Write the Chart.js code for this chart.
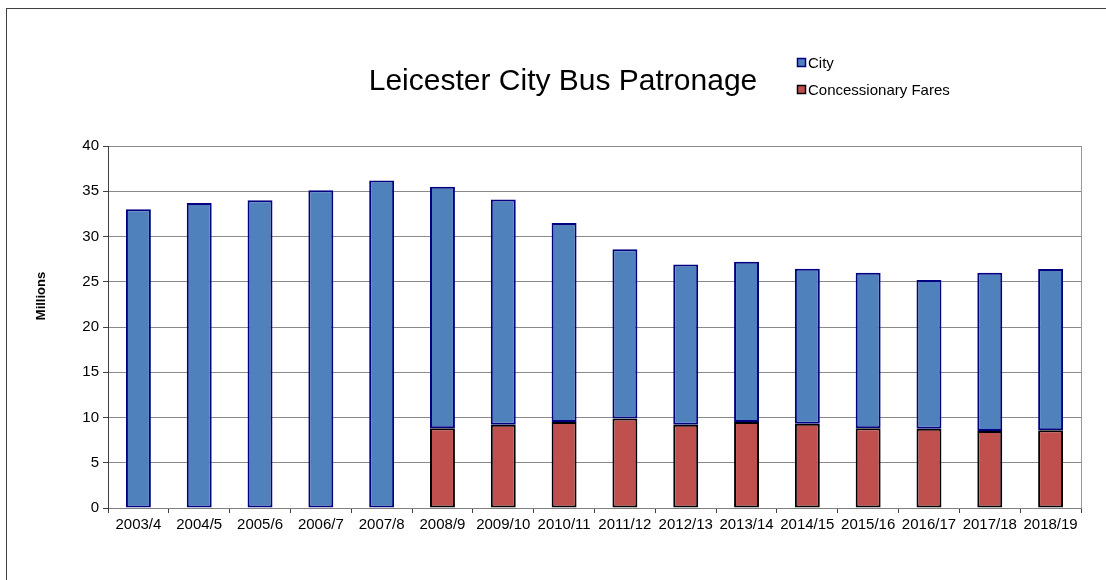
<!DOCTYPE html>
<html>
<head>
<meta charset="utf-8">
<title>Leicester City Bus Patronage</title>
<script src="https://cdn.jsdelivr.net/npm/chart.js@4.4.1/dist/chart.umd.min.js"></script>
<style>
  body { margin: 0; background: #fff; }
  #frame {
    position: absolute; left: 6px; top: 8px;
    width: 1100px; height: 572px;
    border-top: 1px solid #404040; border-left: 1px solid #404040;
  }
  canvas { display: block; }
</style>
</head>
<body>
<div id="frame"><canvas id="myChart" width="1099" height="571"></canvas></div>
<script>
const chartTitle = "Leicester City Bus Patronage";
const yAxisLabel = "Millions";

const years = [
  "2003/4", "2004/5", "2005/6", "2006/7", "2007/8", "2008/9", "2009/10", "2010/11",
  "2011/12", "2012/13", "2013/14", "2014/15", "2015/16", "2016/17", "2017/18", "2018/19"
];

// concessionary fares (bottom of each bar), millions
const concessionary = [
  null, null, null, null, null, 8.8, 9.2, 9.5,
  9.9, 9.2, 9.5, 9.3, 8.8, 8.75, 8.5, 8.6
];

// city part stacked on top, millions
const city = [
  33.0, 33.7, 34.0, 35.1, 36.2, 26.7, 24.9, 22.0,
  18.7, 17.7, 17.7, 17.15, 17.2, 16.45, 17.5, 17.8
];

const yTicks = [0, 5, 10, 15, 20, 25, 30, 35, 40];

const FONT = "'Liberation Sans', Arial, sans-serif";

// title, legend and the y axis label sit where the original put them
const headerPlugin = {
  id: "header",
  beforeDatasetsDraw(chart) {
    const { ctx, chartArea } = chart;
    ctx.save();
    ctx.strokeStyle = "#999999";
    ctx.lineWidth = 1;
    ctx.beginPath();
    ctx.moveTo(chartArea.right + 0.5, chartArea.top);
    ctx.lineTo(chartArea.right + 0.5, chartArea.bottom);
    ctx.stroke();
    ctx.restore();
  },
  afterDraw(chart) {
    const { ctx } = chart;
    ctx.save();
    ctx.fillStyle = "#000";
    ctx.font = "30px " + FONT;
    ctx.textAlign = "center";
    ctx.textBaseline = "alphabetic";
    ctx.fillText(chartTitle, 556, 81);

    // legend, city first like the original
    const items = [chart.data.datasets[1], chart.data.datasets[0]];
    ctx.font = "15px " + FONT;
    ctx.textAlign = "left";
    items.forEach((ds, i) => {
      const y = 54 + i * 27;
      ctx.fillStyle = ds.backgroundColor;
      ctx.fillRect(790.5, y - 4.5, 8, 8);
      ctx.strokeStyle = ds.borderColor;
      ctx.lineWidth = 1.5;
      ctx.strokeRect(790.5, y - 4.5, 8, 8);
      ctx.fillStyle = "#000";
      ctx.textBaseline = "middle";
      ctx.fillText(ds.label, 801, y + 0.5);
    });

    ctx.font = "bold 13px " + FONT;
    ctx.translate(34, 287);
    ctx.rotate(-Math.PI / 2);
    ctx.textAlign = "center";
    ctx.textBaseline = "middle";
    ctx.fillText(yAxisLabel, 0, 0);
    ctx.restore();
  }
};

function createChart() {
  const ctx = document.getElementById("myChart").getContext("2d");
  return new Chart(ctx, {
    type: "bar",
    data: {
      labels: years,
      datasets: [
        {
          label: "Concessionary Fares",
          data: concessionary,
          backgroundColor: "#C0504D",
          borderColor: "#000000",
          borderWidth: 2,
          borderSkipped: false,
          barPercentage: 0.41,
          categoryPercentage: 1
        },
        {
          label: "City",
          data: city,
          backgroundColor: "#4F81BD",
          borderColor: "#000080",
          borderWidth: 2,
          borderSkipped: false,
          barPercentage: 0.41,
          categoryPercentage: 1
        }
      ]
    },
    options: {
      responsive: false,
      animation: false,
      layout: { padding: { top: 137, left: 0, right: 25, bottom: 42 } },
      plugins: {
        legend: { display: false },
        title: { display: false },
        tooltip: { enabled: false }
      },
      scales: {
        x: {
          stacked: true,
          afterFit: scale => { scale.height = 30; },
          grid: {
            offset: true,
            drawOnChartArea: false,
            drawTicks: true,
            tickLength: 5,
            color: "#404040"
          },
          border: { display: true, color: "#808080" },
          ticks: {
            color: "#000",
            font: { family: FONT, size: 15 },
            padding: 3,
            maxRotation: 0,
            autoSkip: false
          }
        },
        y: {
          stacked: true,
          min: 0,
          max: 40,
          afterFit: scale => { scale.width = 101; },
          afterBuildTicks: scale => {
            scale.ticks = yTicks.map(v => ({ value: v }));
          },
          grid: {
            color: "#8a8a8a",
            tickLength: 5,
            tickColor: "#404040"
          },
          border: { display: true, color: "#404040" },
          ticks: {
            color: "#000",
            font: { family: FONT, size: 15 },
            padding: 4
          }
        }
      }
    },
    plugins: [headerPlugin]
  });
}

window.onload = function() {
  createChart();
};
</script>
</body>
</html>
